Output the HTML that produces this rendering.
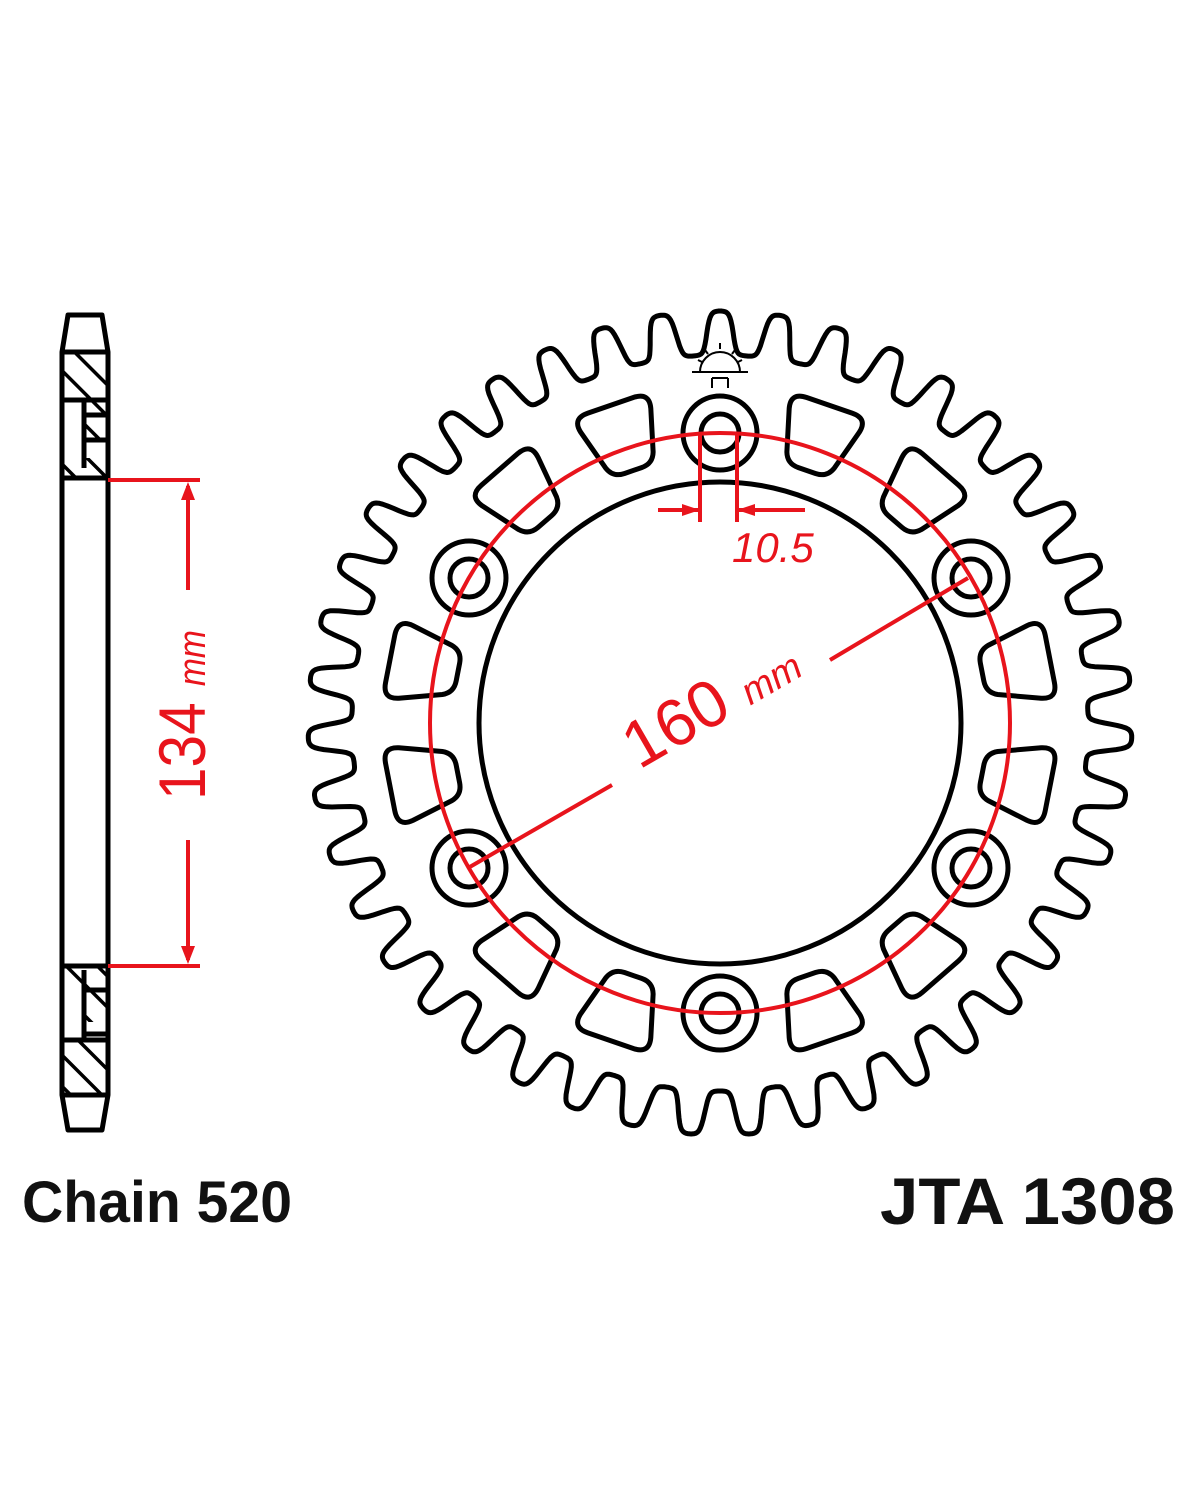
<!DOCTYPE html>
<html><head><meta charset="utf-8"><style>
html,body{margin:0;padding:0;background:#fff;width:1200px;height:1500px;overflow:hidden}
svg{display:block}
</style></head><body>
<svg id="s" width="1200" height="1500" viewBox="0 0 1200 1500" xmlns="http://www.w3.org/2000/svg">
<defs>
<pattern id="hatch" width="22" height="22" patternUnits="userSpaceOnUse" patternTransform="rotate(-45)">
<rect width="22" height="22" fill="#fff"/><line x1="0" y1="0" x2="0" y2="22" stroke="#000" stroke-width="7"/>
</pattern>
<path id="cut" d="M-24,-34 L24,-34 Q41,-34 37,-18 L25,24 Q21,35 9,35 L-9,35 Q-21,35 -25,24 L-37,-18 Q-41,-34 -24,-34 Z"/>
</defs>
<g fill="none" stroke="#000" stroke-width="5" stroke-linejoin="round">
<rect x="64" y="354" width="42" height="46" fill="url(#hatch)" stroke="none"/>
<rect x="86" y="400" width="20" height="40" fill="url(#hatch)" stroke="none"/>
<rect x="64" y="458" width="42" height="20" fill="url(#hatch)" stroke="none"/>
<line x1="62" y1="352" x2="108" y2="352"/>
<line x1="62" y1="400" x2="108" y2="400"/>
<line x1="84" y1="400" x2="84" y2="468"/>
<line x1="84" y1="415" x2="108" y2="415"/>
<line x1="84" y1="440" x2="108" y2="440"/>
<line x1="62" y1="478" x2="108" y2="478"/>
<rect x="64" y="968" width="42" height="18" fill="url(#hatch)" stroke="none"/>
<rect x="84" y="986" width="22" height="36" fill="url(#hatch)" stroke="none"/>
<rect x="64" y="1040" width="42" height="55" fill="url(#hatch)" stroke="none"/>
<line x1="62" y1="966" x2="108" y2="966"/>
<line x1="84" y1="970" x2="84" y2="1040"/>
<line x1="84" y1="990" x2="108" y2="990"/>
<line x1="84" y1="1034" x2="108" y2="1034"/>
<line x1="62" y1="1040" x2="108" y2="1040"/>
<line x1="62" y1="1095" x2="108" y2="1095"/>
<path d="M68,315 L102,315 L108,352 L108,1095 L102,1130 L68,1130 L62,1095 L62,352 Z"/>
<path id="teeth"/>
<circle cx="720" cy="723" r="241"/>
<circle cx="720" cy="433" r="37"/><circle cx="720" cy="433" r="19"/>
<circle cx="971" cy="578" r="37"/><circle cx="971" cy="578" r="19"/>
<circle cx="971" cy="868" r="37"/><circle cx="971" cy="868" r="19"/>
<circle cx="720" cy="1013" r="37"/><circle cx="720" cy="1013" r="19"/>
<circle cx="469" cy="868" r="37"/><circle cx="469" cy="868" r="19"/>
<circle cx="469" cy="578" r="37"/><circle cx="469" cy="578" r="19"/>
<use href="#cut" transform="translate(720,723) rotate(-19) translate(0,-302)"/>
<use href="#cut" transform="translate(720,723) rotate(19) translate(0,-302)"/>
<use href="#cut" transform="translate(720,723) rotate(41) translate(0,-302)"/>
<use href="#cut" transform="translate(720,723) rotate(79) translate(0,-302)"/>
<use href="#cut" transform="translate(720,723) rotate(101) translate(0,-302)"/>
<use href="#cut" transform="translate(720,723) rotate(139) translate(0,-302)"/>
<use href="#cut" transform="translate(720,723) rotate(161) translate(0,-302)"/>
<use href="#cut" transform="translate(720,723) rotate(199) translate(0,-302)"/>
<use href="#cut" transform="translate(720,723) rotate(221) translate(0,-302)"/>
<use href="#cut" transform="translate(720,723) rotate(259) translate(0,-302)"/>
<use href="#cut" transform="translate(720,723) rotate(281) translate(0,-302)"/>
<use href="#cut" transform="translate(720,723) rotate(319) translate(0,-302)"/>
<g stroke-width="2">
<path d="M700,372 A20,20 0 0 1 740,372"/>
<line x1="692" y1="372" x2="748" y2="372"/>
<line x1="712" y1="378" x2="712" y2="388"/><line x1="728" y1="378" x2="728" y2="388"/>
<line x1="712" y1="378" x2="728" y2="378"/>
<line x1="720" y1="343" x2="720" y2="349"/><line x1="705" y1="350" x2="708" y2="354"/><line x1="735" y1="350" x2="732" y2="354"/>
<line x1="698" y1="360" x2="702" y2="362"/><line x1="742" y1="360" x2="738" y2="362"/>
</g>
</g>
<g fill="none" stroke="#e8141c" stroke-width="4">
<circle cx="720" cy="723" r="290"/>
<line x1="108" y1="480" x2="200" y2="480"/>
<line x1="108" y1="966" x2="200" y2="966"/>
<line x1="188" y1="486" x2="188" y2="590"/>
<line x1="188" y1="840" x2="188" y2="960"/>
<line x1="468" y1="868" x2="612" y2="785"/>
<line x1="830" y1="660" x2="968" y2="578"/>
<line x1="700" y1="433" x2="700" y2="522"/>
<line x1="737" y1="433" x2="737" y2="522"/>
<line x1="658" y1="510" x2="700" y2="510"/>
<line x1="737" y1="510" x2="805" y2="510"/>
</g>
<g fill="#e8141c">
<path d="M188,482 L181,500 L195,500 Z"/>
<path d="M188,964 L181,946 L195,946 Z"/>
<path d="M700,510 L682,504 L682,516 Z"/>
<path d="M737,510 L755,504 L755,516 Z"/>
</g>
<g fill="#e8141c" font-family="Liberation Sans, sans-serif">
<text transform="translate(205,715) rotate(-90)" text-anchor="middle" font-size="66" textLength="170" lengthAdjust="spacingAndGlyphs">134 <tspan font-size="38" font-style="italic">mm</tspan></text>
<text transform="translate(722,722) rotate(-30)" text-anchor="middle" font-size="66">160 <tspan font-size="38" font-style="italic">mm</tspan></text>
<text x="732" y="562" font-size="42" font-style="italic">10.5</text>
</g>
<g fill="#111" font-family="Liberation Sans, sans-serif" font-weight="bold">
<text x="22" y="1222" font-size="58" textLength="270" lengthAdjust="spacingAndGlyphs">Chain 520</text>
<text x="880" y="1224" font-size="66" textLength="295" lengthAdjust="spacingAndGlyphs">JTA 1308</text>
</g>
<script>
(function(){
var cx=720,cy=723,N=43,Rt=412,Rr=368,d='';
var steps=N*48, k=2.2, s=0.12;
var gmin=Math.tanh(k*(-1-s)), gmax=Math.tanh(k*(1-s));
for(var i=0;i<=steps;i++){
 var t=i/steps, a=-Math.PI/2+t*2*Math.PI;
 var c=Math.cos(2*Math.PI*t*N);
 var f=(Math.tanh(k*(c-s))-gmin)/(gmax-gmin);
 var r=Rr+(Rt-Rr)*f;
 d+=(i?'L':'M')+(cx+r*Math.cos(a)).toFixed(1)+','+(cy+r*Math.sin(a)).toFixed(1);
}
document.getElementById('teeth').setAttribute('d',d+'Z');
})();
</script>
</svg>
</body></html>
